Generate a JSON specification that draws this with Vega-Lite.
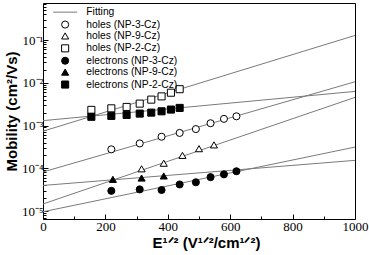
{
  "$schema": "https://vega.github.io/schema/vega-lite/v6.json",
  "width": 312,
  "height": 216,
  "autosize": {"type": "none"},
  "padding": {"left": 43, "top": 3, "right": 14, "bottom": 36},
  "background": "white",
  "config": {
    "view": {"stroke": "black", "strokeWidth": 1},
    "axis": {"grid": false, "domain": false, "tickColor": "black", "labelColor": "black", "titleColor": "black"}
  },
  "datasets": {
    "fits": [
      {"fit": "hs", "x": 0, "y": 0.000736}, {"fit": "hs", "x": 1000, "y": 0.128},
      {"fit": "hc", "x": 0, "y": 0.000082}, {"fit": "hc", "x": 1000, "y": 0.01055},
      {"fit": "es", "x": 0, "y": 0.0013}, {"fit": "es", "x": 1000, "y": 0.00628},
      {"fit": "ht", "x": 0, "y": 0.0000146}, {"fit": "ht", "x": 1000, "y": 0.00455},
      {"fit": "et", "x": 0, "y": 0.0000396}, {"fit": "et", "x": 1000, "y": 0.000153},
      {"fit": "ec", "x": 0, "y": 0.0000096}, {"fit": "ec", "x": 1000, "y": 0.000313}
    ],
    "points": [
      {"series": "holes (NP-3-Cz)", "x": 219, "y": 0.000277},
      {"series": "holes (NP-3-Cz)", "x": 310, "y": 0.000381},
      {"series": "holes (NP-3-Cz)", "x": 380, "y": 0.000546},
      {"series": "holes (NP-3-Cz)", "x": 438, "y": 0.00067},
      {"series": "holes (NP-3-Cz)", "x": 490, "y": 0.000825},
      {"series": "holes (NP-3-Cz)", "x": 537, "y": 0.00113},
      {"series": "holes (NP-3-Cz)", "x": 580, "y": 0.00143},
      {"series": "holes (NP-3-Cz)", "x": 620, "y": 0.00164},
      {"series": "holes (NP-9-Cz)", "x": 316, "y": 0.000097},
      {"series": "holes (NP-9-Cz)", "x": 387, "y": 0.000131},
      {"series": "holes (NP-9-Cz)", "x": 447, "y": 0.0002},
      {"series": "holes (NP-9-Cz)", "x": 500, "y": 0.000287},
      {"series": "holes (NP-9-Cz)", "x": 548, "y": 0.000352},
      {"series": "holes (NP-2-Cz)", "x": 155, "y": 0.00232},
      {"series": "holes (NP-2-Cz)", "x": 219, "y": 0.00252},
      {"series": "holes (NP-2-Cz)", "x": 268, "y": 0.00272},
      {"series": "holes (NP-2-Cz)", "x": 310, "y": 0.00325},
      {"series": "holes (NP-2-Cz)", "x": 347, "y": 0.00403},
      {"series": "holes (NP-2-Cz)", "x": 380, "y": 0.0048},
      {"series": "holes (NP-2-Cz)", "x": 410, "y": 0.00585},
      {"series": "holes (NP-2-Cz)", "x": 438, "y": 0.00707},
      {"series": "electrons (NP-3-Cz)", "x": 219, "y": 0.0000296},
      {"series": "electrons (NP-3-Cz)", "x": 310, "y": 0.000032},
      {"series": "electrons (NP-3-Cz)", "x": 380, "y": 0.000031},
      {"series": "electrons (NP-3-Cz)", "x": 438, "y": 0.0000418},
      {"series": "electrons (NP-3-Cz)", "x": 490, "y": 0.000047},
      {"series": "electrons (NP-3-Cz)", "x": 537, "y": 0.000062},
      {"series": "electrons (NP-3-Cz)", "x": 580, "y": 0.000072},
      {"series": "electrons (NP-3-Cz)", "x": 620, "y": 0.000085},
      {"series": "electrons (NP-9-Cz)", "x": 224, "y": 0.000055},
      {"series": "electrons (NP-9-Cz)", "x": 316, "y": 0.000059},
      {"series": "electrons (NP-9-Cz)", "x": 387, "y": 0.000066},
      {"series": "electrons (NP-2-Cz)", "x": 155, "y": 0.0016},
      {"series": "electrons (NP-2-Cz)", "x": 219, "y": 0.00168},
      {"series": "electrons (NP-2-Cz)", "x": 268, "y": 0.00177},
      {"series": "electrons (NP-2-Cz)", "x": 310, "y": 0.0019},
      {"series": "electrons (NP-2-Cz)", "x": 347, "y": 0.002},
      {"series": "electrons (NP-2-Cz)", "x": 380, "y": 0.00215},
      {"series": "electrons (NP-2-Cz)", "x": 410, "y": 0.00236},
      {"series": "electrons (NP-2-Cz)", "x": 438, "y": 0.00258}
    ]
  },
  "layer": [
    {
      "data": {"name": "fits"},
      "mark": {"type": "line", "color": "#7a7a7a", "strokeWidth": 1, "clip": true},
      "encoding": {
        "x": {
          "field": "x", "type": "quantitative",
          "scale": {"domain": [0, 1000], "nice": false, "zero": false},
          "axis": {
            "orient": "bottom",
            "values": [0, 200, 400, 600, 800, 1000],
            "format": "d",
            "tickSize": -5,
            "labelPadding": 6,
            "labelFont": "Liberation Serif",
            "labelFontSize": 13,
            "labelFlush": false,
            "title": "E¹ᐟ² (V¹ᐟ²/cm¹ᐟ²)",
            "titleFont": "Liberation Sans",
            "titleFontSize": 15,
            "titleFontWeight": "bold",
            "titlePadding": 2,
            "titleX": 163
          }
        },
        "y": {
          "field": "y", "type": "quantitative",
          "scale": {"type": "log", "domain": [0.0000065, 0.734], "nice": false},
          "axis": {
            "orient": "left",
            "values": [0.00001, 0.0001, 0.001, 0.01, 0.1],
            "tickSize": -5,
            "labelPadding": 5,
            "labelFont": "Liberation Serif",
            "labelFontSize": 13,
            "labelFlush": false,
            "labelExpr": "'10⁻' + ['', '¹', '²', '³', '⁴', '⁵'][round(-log(datum.value) / LN10)]",
            "title": "Mobility (cm²/Vs)",
            "titleFont": "Liberation Sans",
            "titleFontSize": 15,
            "titleFontWeight": "bold",
            "titlePadding": 2
          }
        },
        "detail": {"field": "fit", "type": "nominal"}
      }
    },
    {
      "data": {"name": "points"},
      "mark": {"type": "point", "filled": true, "size": 50, "strokeWidth": 1, "opacity": 1},
      "encoding": {
        "x": {
          "field": "x", "type": "quantitative",
          "axis": {"orient": "bottom", "values": [100, 300, 500, 700, 900], "tickSize": -3, "labels": false, "title": null}
        },
        "y": {
          "field": "y", "type": "quantitative",
          "axis": {
            "orient": "left",
            "values": [0.000007, 0.000008, 0.000009, 0.00002, 0.00003, 0.00004, 0.00005, 0.00006, 0.00007, 0.00008, 0.00009, 0.0002, 0.0003, 0.0004, 0.0005, 0.0006, 0.0007, 0.0008, 0.0009, 0.002, 0.003, 0.004, 0.005, 0.006, 0.007, 0.008, 0.009, 0.02, 0.03, 0.04, 0.05, 0.06, 0.07, 0.08, 0.09, 0.2, 0.3, 0.4, 0.5, 0.6, 0.7],
            "tickSize": -3, "labels": false, "title": null
          }
        },
        "shape": {
          "field": "series", "type": "nominal",
          "scale": {
            "domain": ["Fitting", "holes (NP-3-Cz)", "holes (NP-9-Cz)", "holes (NP-2-Cz)", "electrons (NP-3-Cz)", "electrons (NP-9-Cz)", "electrons (NP-2-Cz)"],
            "range": ["M-3.4,0H3.4", "circle", "triangle-up", "square", "circle", "triangle-up", "square"]
          },
          "legend": {"orient": "none", "legendX": 17, "legendY": 4, "title": null, "padding": 0, "labelFont": "Liberation Sans", "labelFontSize": 10.3, "labelColor": "black", "symbolSize": 50, "symbolStrokeWidth": 1, "rowPadding": 0.4, "labelOffset": 16}
        },
        "fill": {
          "field": "series", "type": "nominal",
          "scale": {
            "domain": ["Fitting", "holes (NP-3-Cz)", "holes (NP-9-Cz)", "holes (NP-2-Cz)", "electrons (NP-3-Cz)", "electrons (NP-9-Cz)", "electrons (NP-2-Cz)"],
            "range": ["transparent", "white", "white", "white", "black", "black", "black"]
          },
          "legend": {"orient": "none", "legendX": 17, "legendY": 4, "title": null, "padding": 0, "labelFont": "Liberation Sans", "labelFontSize": 10.3, "labelColor": "black", "symbolSize": 50, "symbolStrokeWidth": 1, "rowPadding": 0.4, "labelOffset": 16}
        },
        "stroke": {
          "field": "series", "type": "nominal",
          "scale": {
            "domain": ["Fitting", "holes (NP-3-Cz)", "holes (NP-9-Cz)", "holes (NP-2-Cz)", "electrons (NP-3-Cz)", "electrons (NP-9-Cz)", "electrons (NP-2-Cz)"],
            "range": ["#7a7a7a", "black", "black", "black", "black", "black", "black"]
          },
          "legend": {"orient": "none", "legendX": 17, "legendY": 4, "title": null, "padding": 0, "labelFont": "Liberation Sans", "labelFontSize": 10.3, "labelColor": "black", "symbolSize": 50, "symbolStrokeWidth": 1, "rowPadding": 0.4, "labelOffset": 16}
        }
      }
    }
  ],
  "resolve": {"axis": {"x": "independent", "y": "independent"}}
}
